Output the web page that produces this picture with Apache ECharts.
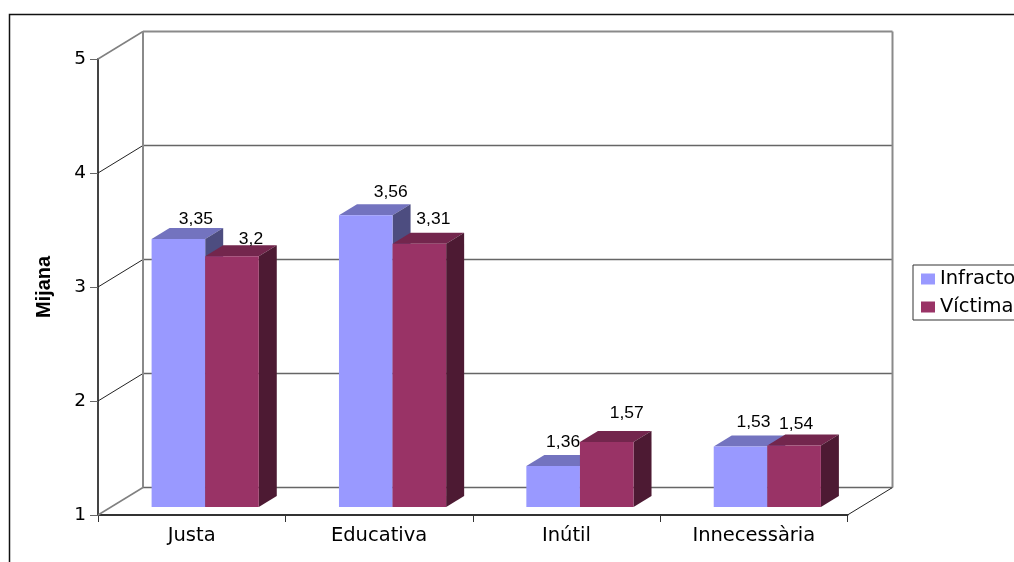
<!DOCTYPE html>
<html>
<head>
<meta charset="utf-8">
<style>html,body{margin:0;padding:0;background:#fff;overflow:hidden}#c{width:1014px;height:562px}</style>
<script src="https://cdn.jsdelivr.net/npm/echarts@6/dist/echarts.min.js"></script>
</head>
<body>
<div id="c"></div>
<script>
const categories = ['Justa', 'Educativa', 'Inútil', 'Innecessària'];
const infractor = [3.35, 3.56, 1.36, 1.53];
const victima = [3.2, 3.31, 1.57, 1.54];
const wallTicks = [1, 2, 3, 4, 5];

const WALL_DX = 45, WALL_DY = 27.5;
const FRONT_DX = 13.5, FRONT_DY = 8;
const BAR_DX = 18, BAR_DY = 11;
const BAR_FRAC = 0.286;
const FONT = '"Liberation Sans", Arial, sans-serif';
const AXIS_FONT = '"DejaVu Sans", "Liberation Sans", sans-serif';

// label placement relative to each bar's top-front centre
const infractorNudge = [[17.5, -20], [25, -23], [10, -24], [13, -24]];
const victimaNudge = [[19, -17], [14, -24], [20, -29], [2, -21]];

function wallItem(params, api) {
  const v = api.value(0);
  const cs = params.coordSys;
  const y = api.coord([0, v])[1];
  const x0 = cs.x, x1 = cs.x + cs.width;
  const edge = v === 1 || v === 5;
  const children = [];
  children.push({type: 'line', shape: {x1: x0, y1: y, x2: x0 + WALL_DX, y2: y - WALL_DY},
    style: {stroke: edge ? '#808080' : '#222', lineWidth: edge ? 1.5 : 1}});
  children.push({type: 'line', shape: {x1: x0 + WALL_DX, y1: y - WALL_DY, x2: x1 + WALL_DX, y2: y - WALL_DY},
    style: {stroke: v === 5 ? '#8a8a8a' : '#666', lineWidth: v === 5 ? 2 : 1.5}});
  if (v === 1) {
    children.push({type: 'line', shape: {x1: x1, y1: y, x2: x1 + WALL_DX, y2: y - WALL_DY},
      style: {stroke: '#222', lineWidth: 1}});
  }
  if (v === 5) {
    const yb = api.coord([0, 1])[1];
    children.push({type: 'line', shape: {x1: x0 + WALL_DX, y1: y - WALL_DY, x2: x0 + WALL_DX, y2: yb - WALL_DY},
      style: {stroke: '#8a8a8a', lineWidth: 2}});
    children.push({type: 'line', shape: {x1: x1 + WALL_DX, y1: y - WALL_DY, x2: x1 + WALL_DX, y2: yb - WALL_DY},
      style: {stroke: '#8a8a8a', lineWidth: 2}});
  }
  return {type: 'group', children};
}

function barRenderer(seriesIndex, colors, nudges) {
  return function (params, api) {
    const idx = api.value(0), val = api.value(1);
    const band = api.size([1, 0])[0];
    const w = band * BAR_FRAC;
    const p = api.coord([idx, val]);
    const b = api.coord([idx, 1]);
    const left = p[0] + FRONT_DX + (seriesIndex === 0 ? -w : 0);
    const right = left + w;
    const top = p[1] - FRONT_DY;
    const base = b[1] - FRONT_DY;
    const n = nudges[idx];
    const poly = (pts, fill) => ({type: 'polygon', shape: {points: pts}, style: {fill: fill, stroke: null}});
    return {type: 'group', children: [
      poly([[left, top], [left + BAR_DX, top - BAR_DY], [right + BAR_DX, top - BAR_DY], [right, top]], colors.top),
      poly([[right, top], [right + BAR_DX, top - BAR_DY], [right + BAR_DX, base - BAR_DY], [right, base]], colors.side),
      {type: 'rect', shape: {x: left, y: top, width: w, height: base - top}, style: {fill: colors.front}},
      {type: 'text', x: (left + right) / 2 + n[0], y: top + n[1], scaleX: 1.06, z2: 50,
        style: {text: String(val).replace('.', ','), fill: '#000', fontFamily: FONT, fontSize: 16.5,
          align: 'center', verticalAlign: 'middle'}}
    ]};
  };
}

const chart = echarts.init(document.getElementById('c'), null, {renderer: 'canvas'});
chart.setOption({
  animation: false,
  backgroundColor: '#fff',
  grid: {left: 98, top: 59, width: 749.5, height: 456, containLabel: false},
  graphic: [
    {type: 'polyline', silent: true, z: -1, shape: {points: [[9.5, 562], [9.5, 14.5], [1014, 14.5]]},
      style: {stroke: '#111', lineWidth: 1.5, fill: null}}
  ],
  legend: {
    show: true, orient: 'vertical', left: 913, top: 265,
    padding: [4, 8, 3, 8], itemGap: 8, itemWidth: 14, itemHeight: 11,
    borderColor: '#333', borderWidth: 1, backgroundColor: '#fff',
    selectedMode: false, icon: 'rect',
    data: ['Infractor', 'Víctima'],
    textStyle: {fontFamily: AXIS_FONT, fontSize: 19.5, color: '#000', height: 20, lineHeight: 20}
  },
  xAxis: {
    type: 'category', data: categories, boundaryGap: true,
    axisLine: {show: true, lineStyle: {color: '#333', width: 2}},
    axisTick: {show: true, alignWithLabel: false, length: 7, lineStyle: {color: '#333', width: 1}},
    axisLabel: {interval: 0, margin: 11, fontFamily: AXIS_FONT, fontSize: 19.5, color: '#000'}
  },
  yAxis: {
    type: 'value', min: 1, max: 5, interval: 1,
    name: 'Mijana', nameLocation: 'middle', nameGap: 44, nameRotate: 90,
    nameTextStyle: {fontFamily: FONT, fontWeight: 'bold', fontSize: 20, color: '#000'},
    axisLine: {show: true, onZero: false, lineStyle: {color: '#444', width: 2}},
    axisTick: {show: true, length: 8, lineStyle: {color: '#666', width: 1}},
    axisLabel: {margin: 12, padding: [2, 0, 0, 0], fontFamily: AXIS_FONT, fontSize: 18.5, color: '#000'},
    splitLine: {show: false}
  },
  series: [
    {type: 'custom', silent: true, z: 1, coordinateSystem: 'cartesian2d', renderItem: wallItem,
      encode: {y: 0}, data: wallTicks.map(v => [v])},
    {type: 'custom', name: 'Infractor', z: 2, itemStyle: {color: '#9999FF'},
      renderItem: barRenderer(0, {front: '#9999FF', top: '#7373BF', side: '#4D4D80'}, infractorNudge),
      encode: {x: 0, y: 1}, data: infractor.map((v, i) => [i, v])},
    {type: 'custom', name: 'Víctima', z: 3, itemStyle: {color: '#993366'},
      renderItem: barRenderer(1, {front: '#993366', top: '#73264D', side: '#4D1A33'}, victimaNudge),
      encode: {x: 0, y: 1}, data: victima.map((v, i) => [i, v])}
  ]
});
</script>
</body>
</html>
